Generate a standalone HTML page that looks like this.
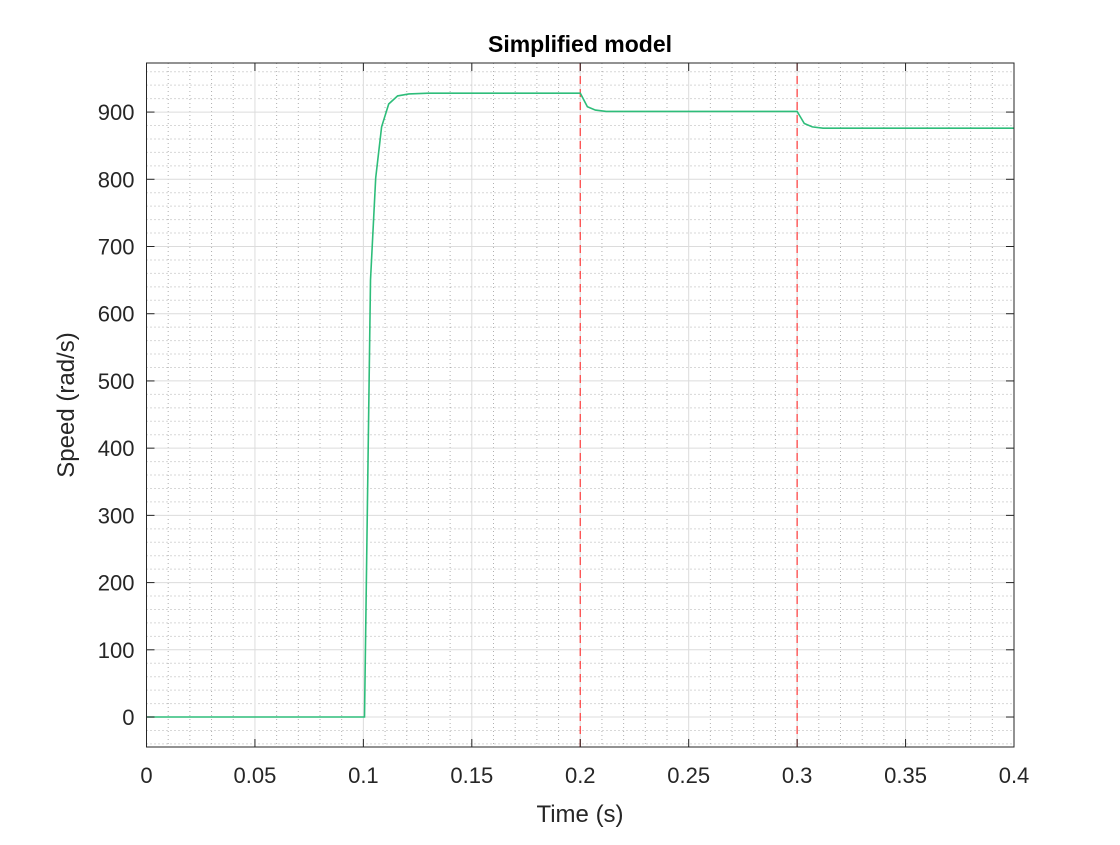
<!DOCTYPE html>
<html><head><meta charset="utf-8"><style>
body{margin:0;background:#fff;}
svg text{font-family:"Liberation Sans",Arial,sans-serif;fill:#262626;}
</style></head><body>
<svg id="chart" width="1120" height="840" xmlns="http://www.w3.org/2000/svg">
<rect width="1120" height="840" fill="#fff"/>
<g id="grid"></g>
<g id="marks"></g>
<g id="axes"></g>
<text x="580" y="52" text-anchor="middle" font-size="23" font-weight="bold" style="fill:#000">Simplified model</text>
<text x="580" y="822" text-anchor="middle" font-size="24">Time (s)</text>
<text transform="translate(74,405) rotate(-90)" text-anchor="middle" font-size="24">Speed (rad/s)</text>
</svg>
<script>
const timeS=[0,0.1,0.1005,0.1033,0.1057,0.1084,0.1117,0.1158,0.121,0.13,0.2,0.2033,0.207,0.212,0.22,0.3,0.3033,0.307,0.312,0.32,0.4];
const speed=[0,0,0,650,802,878,912,924,927,928,928,908,903,901,901,901,883,878,876,876,876];
const eventTimes=[0.2,0.3];
const xTicks=[0,0.05,0.1,0.15,0.2,0.25,0.3,0.35,0.4];
const xTickLabels=["0","0.05","0.1","0.15","0.2","0.25","0.3","0.35","0.4"];
const yTicks=[0,100,200,300,400,500,600,700,800,900];
const yTickLabels=["0","100","200","300","400","500","600","700","800","900"];
const L=146.5,R=1014,T=63,B=747,X0=0,X1=0.4,Y0=-44.6,Y1=973;
const sx=v=>L+(v-X0)/(X1-X0)*(R-L);
const sy=v=>B-(v-Y0)/(Y1-Y0)*(B-T);
const NS="http://www.w3.org/2000/svg";
function mk(tag,attrs,parent){const e=document.createElementNS(NS,tag);for(const k in attrs)e.setAttribute(k,attrs[k]);parent.appendChild(e);return e;}
const grid=document.getElementById('grid'),marks=document.getElementById('marks'),axes=document.getElementById('axes');
for(let i=1;i<40;i++){const v=i*0.01;if(i%5===0)continue;const l=mk('line',{x1:sx(v),x2:sx(v),y1:T,y2:B,stroke:'#b0b0b0','stroke-width':1,'stroke-dasharray':'1,3'},grid);
}
for(let v=-40;v<=960;v+=20){if(v%100===0)continue;const l=mk('line',{x1:L,x2:R,y1:sy(v),y2:sy(v),stroke:'#b0b0b0','stroke-width':1,'stroke-dasharray':'1,3'},grid);
}
xTicks.forEach(v=>{const l=mk('line',{x1:sx(v),x2:sx(v),y1:T,y2:B,stroke:'#dcdcdc','stroke-width':1},grid);
});
yTicks.forEach(v=>{const l=mk('line',{x1:L,x2:R,y1:sy(v),y2:sy(v),stroke:'#dcdcdc','stroke-width':1},grid);
});
eventTimes.forEach(v=>{const l=mk('line',{x1:sx(v),x2:sx(v),y1:T,y2:B,stroke:'#ff3b3b','stroke-width':1.2,'stroke-dasharray':'8,5'},marks);
});
const pts=timeS.map((t,i)=>sx(t).toFixed(1)+','+sy(speed[i]).toFixed(1)).join(' ');
const pl=mk('polyline',{points:pts,fill:'none',stroke:'#2ebd7a','stroke-width':1.6},marks);

const bx=mk('rect',{x:L,y:T,width:R-L,height:B-T,fill:'none',stroke:'#262626','stroke-width':1},axes);

xTicks.forEach((v,i)=>{mk('line',{x1:sx(v),x2:sx(v),y1:B,y2:B-8,stroke:'#262626'},axes);mk('line',{x1:sx(v),x2:sx(v),y1:T,y2:T+8,stroke:'#262626'},axes);
const t=mk('text',{x:sx(v),y:B+36,'text-anchor':'middle','font-size':22},axes);t.textContent=xTickLabels[i];
});
yTicks.forEach((v,i)=>{mk('line',{x1:L,x2:L+8,y1:sy(v),y2:sy(v),stroke:'#262626'},axes);mk('line',{x1:R,x2:R-8,y1:sy(v),y2:sy(v),stroke:'#262626'},axes);
const t=mk('text',{x:L-12,y:sy(v)+8,'text-anchor':'end','font-size':22},axes);t.textContent=yTickLabels[i];
});
</script>
</body></html>
